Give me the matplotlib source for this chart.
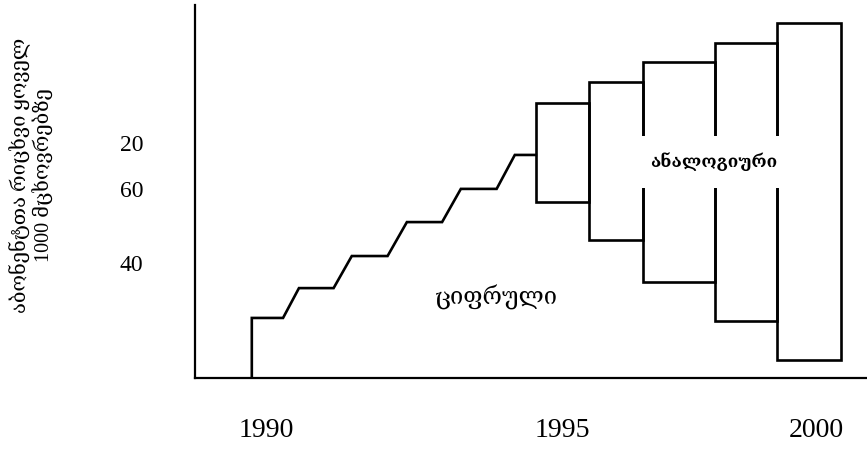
import matplotlib.pyplot as plt
from matplotlib.patches import Rectangle

plt.rcParams['font.family'] = ['Liberation Serif', 'DejaVu Serif', 'DejaVu Sans']

# digital subscribers: plateaus of the staircase (start year, end year, level)
digital_start = [1990.0, 1990.83, 1991.76, 1992.73, 1993.68, 1994.63]
digital_end = [1990.55, 1991.44, 1992.39, 1993.35, 1994.31, 1995.0]
digital_level = [16.1, 24.1, 32.7, 41.8, 50.7, 59.8]

# analog subscribers: one box per year (left, right, low, high)
analog_left = [1995.0, 1995.93, 1996.88, 1998.15, 1999.24]
analog_right = [1995.93, 1996.88, 1998.15, 1999.24, 2000.37]
analog_low = [47.2, 37.0, 25.7, 15.3, 4.8]
analog_high = [73.7, 79.4, 84.7, 89.8, 95.2]

year_labels = ['1990', '1995', '2000']
value_labels = ['20', '60', '40']
label_digital = 'ციფრული'
label_analog = 'ანალოგიური'
y_title = 'აბონენტთა რიცხვი ყოველ\n1000 მცხოვრებზე'

fig = plt.figure(figsize=(8.67, 4.49), dpi=100)
ax = fig.add_axes([195 / 867, 71 / 449, 672 / 867, 373 / 449])
ax.set_xlim(1989.0, 2000.83)
ax.set_ylim(0, 100)

# staircase line
xs = [digital_start[0]]
ys = [0]
for s, e, lv in zip(digital_start, digital_end, digital_level):
    xs += [s, e]
    ys += [lv, lv]
ax.plot(xs, ys, color='black', lw=1.9, solid_joinstyle='miter')

# analog boxes
for l, r, lo, hi in zip(analog_left, analog_right, analog_low, analog_high):
    ax.add_patch(Rectangle((l, lo), r - l, hi - lo, fill=False,
                           ec='black', lw=1.9, joinstyle='miter'))

ax.text(1994.31, 21.7, label_digital, ha='center', va='center',
        fontsize=17, family=['DejaVu Serif', 'DejaVu Sans'])
ax.text(1998.13, 57.9, label_analog, ha='center', va='center',
        fontsize=12.5, fontweight='bold', family=['DejaVu Serif', 'DejaVu Sans'],
        bbox=dict(boxstyle='square,pad=0.95', fc='white', ec='none'), zorder=5)

# axes
for side in ['top', 'right']:
    ax.spines[side].set_visible(False)
for side in ['left', 'bottom']:
    ax.spines[side].set_linewidth(1.6)

ax.set_xticks([1990.25, 1995.46, 1999.93], year_labels)
ax.set_yticks([63.0, 50.7, 30.8], value_labels)
ax.tick_params(axis='x', length=0, pad=29, labelsize=20)
ax.tick_params(axis='y', length=0, pad=37, labelsize=17)

fig.text(0.037, 0.61, y_title, rotation=90, ha='center', va='center',
         multialignment='center', fontsize=14.5, linespacing=1.2)

plt.savefig('out.png', dpi=100)
